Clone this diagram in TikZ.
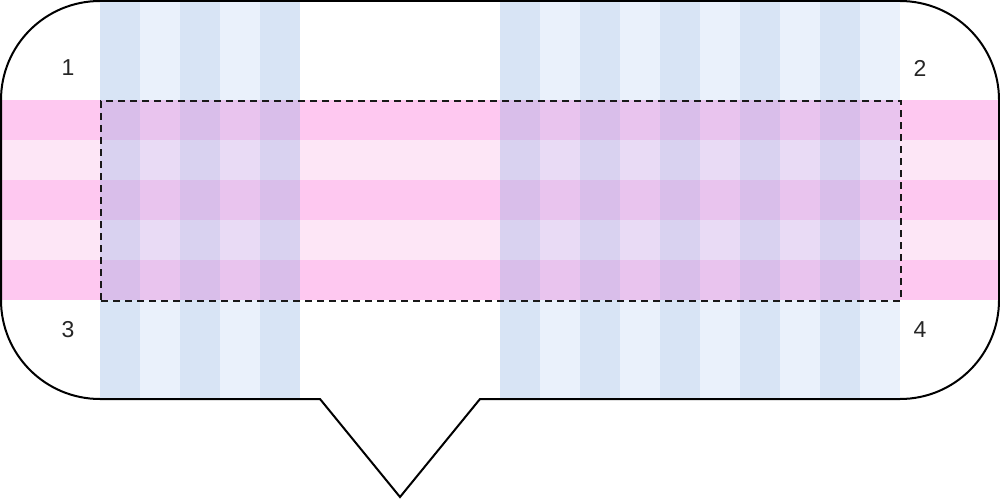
\documentclass[tikz,border=0pt]{standalone}
\usepackage{fontspec}
\setmainfont{Liberation Sans}
\definecolor{bluedk}{HTML}{D8E4F5}
\definecolor{bluelt}{HTML}{EAF1FB}
\definecolor{pinkdk}{HTML}{FEC8F0}
\definecolor{pinklt}{HTML}{FDE6F6}
\definecolor{ovdd}{HTML}{D9BEEA}
\definecolor{ovdl}{HTML}{E9C4EE}
\definecolor{ovld}{HTML}{D9D2F0}
\definecolor{ovll}{HTML}{E9DBF5}
\begin{document}
\begin{tikzpicture}[x=1pt,y=-1pt,
  bubble/.style={draw=black,line width=2pt,line join=miter},
  frame/.style={draw=black!90,line width=2pt,dash pattern=on 7pt off 5pt},
  num/.style={font=\fontsize{23}{27}\selectfont,text=black!85,inner sep=0pt}]
\useasboundingbox (0,0) rectangle (1000,500);
\fill[white] (0,0) rectangle (1000,500);
% blue columns
\foreach \x/\c in {100/bluedk,140/bluelt,180/bluedk,220/bluelt,260/bluedk,
  500/bluedk,540/bluelt,580/bluedk,620/bluelt,660/bluedk,700/bluelt,740/bluedk,780/bluelt,820/bluedk,860/bluelt}{
  \fill[\c] (\x,0) rectangle ++(40,399);
}
% pink rows
\foreach \y/\c in {100/pinkdk,140/pinklt,180/pinkdk,220/pinklt,260/pinkdk}{
  \fill[\c] (0,\y) rectangle (1000,\y+40);
}
% overlaps
\foreach \x/\cx in {100/d,140/l,180/d,220/l,260/d,500/d,540/l,580/d,620/l,660/d,700/l,740/d,780/l,820/d,860/l}{
  \foreach \y/\cy in {100/d,140/l,180/d,220/l,260/d}{
    \if\cy d
      \if\cx d \def\cc{ovdd}\else\def\cc{ovdl}\fi
    \else
      \if\cx d \def\cc{ovld}\else\def\cc{ovll}\fi
    \fi
    \fill[\cc] (\x,\y) rectangle ++(40,40);
  }
}
% dashed frame
\node[frame,minimum width=800pt,minimum height=200pt,inner sep=0pt,anchor=north west] (sel) at (100,100) {};
% bubble outline
\draw[bubble] (100,1) -- (900,1) .. controls (954.7,1) and (999,45.3) .. (999,100)
  -- (999,300) .. controls (999,354.7) and (954.7,399) .. (900,399)
  -- (480,399) -- (400,497) -- (320,399) -- (100,399)
  .. controls (45.3,399) and (1,354.7) .. (1,300) -- (1,100)
  .. controls (1,45.3) and (45.3,1) .. (100,1) -- cycle;
% labels
\node[num] (n1) at (68,68) {1};
\node[num] (n2) at (920,68) {2};
\node[num] (n3) at (68,330) {3};
\node[num] (n4) at (920,330) {4};
\end{tikzpicture}
\end{document}
